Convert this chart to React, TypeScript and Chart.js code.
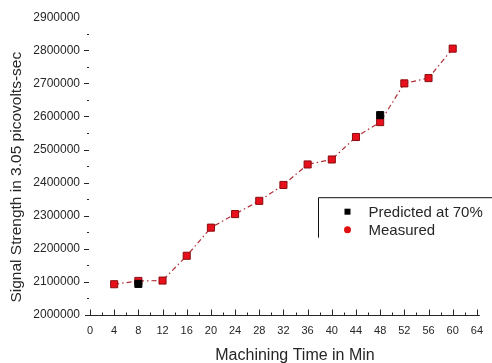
import React, { useEffect, useRef } from "react";
import { Chart, registerables } from "chart.js";

Chart.register(...registerables);

const times = [4, 8, 12, 16, 20, 24, 28, 32, 36, 40, 44, 48, 52, 56, 60];
const measured = [2093000, 2103000, 2104000, 2179000, 2264000, 2305000, 2345000, 2393000, 2455000, 2470000, 2538000, 2583000, 2700000, 2716000, 2805000];
const predictedTimes = [8, 48];
const predictedValues = [2094000, 2604000];
const legendLabels = ["Predicted at 70%", "Measured"];
const xTitle = "Machining Time in Min";
const yTitle = "Signal Strength in 3.05 picovolts-sec";

const FONT = "'Liberation Sans', Arial, sans-serif";
const TEXT = "#262626";

const axisPlugin = {
  id: "axisTicks",
  afterDraw(chart: any) {
    const { ctx, chartArea } = chart;
    const x = chart.scales.x;
    const y = chart.scales.y;
    ctx.save();
    ctx.strokeStyle = TEXT;
    ctx.lineWidth = 1;
    const by = Math.round(chartArea.bottom) + 0.5;
    ctx.beginPath();
    ctx.moveTo(chartArea.left - 5, by);
    ctx.lineTo(chartArea.right + 3, by);
    ctx.stroke();
    x.ticks.forEach((t: any) => {
      const px = Math.round(x.getPixelForValue(t.value)) + 0.5;
      const len = t.value % 4 === 0 ? 6 : 3;
      ctx.beginPath();
      ctx.moveTo(px, by);
      ctx.lineTo(px, by - len);
      ctx.stroke();
    });
    y.ticks.forEach((t: any) => {
      if (t.value === y.min || t.value === y.max) return;
      const py = Math.round(y.getPixelForValue(t.value)) + 0.5;
      const major = t.value % 100000 === 0;
      ctx.beginPath();
      ctx.moveTo(chartArea.left - (major ? 6 : 3), py);
      ctx.lineTo(chartArea.left - 1, py);
      ctx.stroke();
    });
    // axis titles
    ctx.fillStyle = TEXT;
    ctx.textAlign = "center";
    ctx.textBaseline = "alphabetic";
    ctx.font = `16px ${FONT}`;
    ctx.fillText(xTitle, chartArea.left + 205, chart.height - 3);
    ctx.translate(21, chartArea.top + 160);
    ctx.rotate(-Math.PI / 2);
    ctx.font = `15.5px ${FONT}`;
    ctx.fillText(yTitle, 0, 0);
    ctx.restore();
  },
};

const legendPlugin = {
  id: "boxLegend",
  afterDraw(chart: any) {
    const { ctx, chartArea } = chart;
    const left = chartArea.left + 228.5;
    const top = chartArea.top + 180.5;
    ctx.save();
    ctx.strokeStyle = "#111";
    ctx.lineWidth = 1;
    ctx.beginPath();
    ctx.moveTo(left, top + 40);
    ctx.lineTo(left, top);
    ctx.lineTo(chart.width, top);
    ctx.stroke();
    const mx = left + 29;
    const y1 = top + 14;
    const y2 = top + 32;
    ctx.fillStyle = "#000";
    ctx.fillRect(mx - 3, y1 - 3, 6, 6);
    ctx.fillStyle = "#e01010";
    ctx.beginPath();
    ctx.arc(mx, y2, 3.5, 0, Math.PI * 2);
    ctx.fill();
    ctx.fillStyle = TEXT;
    ctx.font = `15px ${FONT}`;
    ctx.textBaseline = "middle";
    ctx.textAlign = "left";
    ctx.fillText(legendLabels[0], left + 50, y1 + 1);
    ctx.fillText(legendLabels[1], left + 50, y2 + 1);
    ctx.restore();
  },
};

export default function App() {
  const ref = useRef<HTMLCanvasElement>(null);
  useEffect(() => {
    document.body.style.margin = "0";
    const chart = new Chart(ref.current!, {
      type: "scatter",
      data: {
        datasets: [
          {
            label: legendLabels[0],
            data: predictedTimes.map((t, i) => ({ x: t, y: predictedValues[i] })),
            showLine: false,
            pointStyle: "rect",
            pointRadius: 5,
            backgroundColor: "#000",
            borderColor: "#000",
            borderWidth: 1,
          },
          {
            label: legendLabels[1],
            data: times.map((t, i) => ({ x: t, y: measured[i] })),
            showLine: true,
            borderColor: "#b03038",
            borderWidth: 1.2,
            borderDash: [5, 3, 1.5, 3],
            pointStyle: "rect",
            pointRadius: 5,
            pointBackgroundColor: "#e8101a",
            pointBorderColor: "#8a0c10",
            pointBorderWidth: 1,
          },
        ],
      },
      options: {
        animation: false,
        responsive: false,
        events: [],
        layout: { padding: { top: 17, right: 6, left: 0, bottom: 0 } },
        plugins: { legend: { display: false }, tooltip: { enabled: false } },
        scales: {
          x: {
            type: "linear",
            min: 0,
            max: 64,
            afterFit: (s: any) => { s.height = 48; },
            grid: { display: false, drawTicks: false },
            border: { display: false },
            ticks: {
              stepSize: 2,
              autoSkip: false,
              maxRotation: 0,
              padding: 9,
              color: TEXT,
              font: { family: FONT, size: 11 },
              callback: (v: any) => (Number(v) % 4 === 0 ? String(v) : ""),
            },
            title: { display: false },
          },
          y: {
            type: "linear",
            min: 2000000,
            max: 2900000,
            afterFit: (s: any) => { s.width = 90; },
            grid: { display: false, drawTicks: false },
            border: { display: false },
            ticks: {
              stepSize: 50000,
              autoSkip: false,
              padding: 10,
              color: TEXT,
              font: { family: FONT, size: 12 },
              callback: (v: any) => (Number(v) % 100000 === 0 ? String(v) : ""),
            },
            title: { display: false },
          },
        },
      },
      plugins: [axisPlugin, legendPlugin],
    });
    return () => chart.destroy();
  }, []);
  return (
    <div style={{ width: 492, height: 363, background: "#fff" }}>
      <canvas ref={ref} width={492} height={363} />
    </div>
  );
}
